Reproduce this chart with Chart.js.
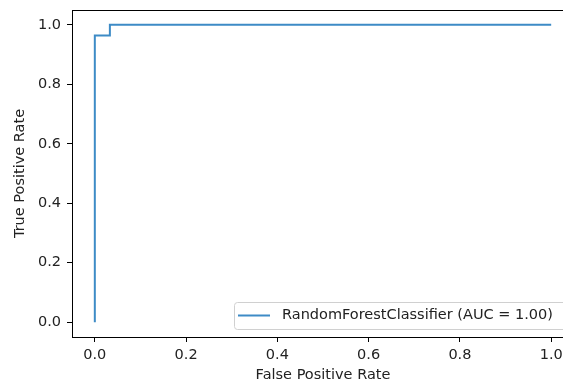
<!DOCTYPE html>
<html>
<head>
<meta charset="utf-8">
<script src="https://cdn.jsdelivr.net/npm/chart.js@4"></script>
<style>
    html, body { margin: 0; padding: 0; background: #fff; overflow: hidden; }
    #wrap { width: 590px; height: 384px; }
</style>
</head>
<body>
<div id="wrap"><canvas id="roc"></canvas></div>
<script>
// ROC curve data (false positive rate / true positive rate)
const fpr = [0.0, 0.0, 0.033, 0.033, 1.0];
const tpr = [0.0, 0.964, 0.964, 1.0, 1.0];
const xTicks = [0.0, 0.2, 0.4, 0.6, 0.8, 1.0];
const yTicks = [0.0, 0.2, 0.4, 0.6, 0.8, 1.0];
const seriesLabel = 'RandomForestClassifier (AUC = 1.00)';

const FONT = 'DejaVu Sans';
const FONT_SIZE = 14.5;
const lineColor = '#3d8bc6';

// draws the box round the plot, like matplotlib spines
const frame = {
    id: 'frame',
    afterDraw(chart) {
        const { ctx, chartArea: a } = chart;
        ctx.save();
        ctx.strokeStyle = '#000';
        ctx.lineWidth = 1;
        ctx.strokeRect(Math.round(a.left) + 0.5, Math.round(a.top) + 0.5,
            Math.round(a.right - a.left), Math.round(a.bottom - a.top));
        ctx.restore();
    }
};

// legend in the lower right corner, inside the axes
const innerLegend = {
    id: 'innerLegend',
    afterDraw(chart) {
        const { ctx, chartArea: a } = chart;
        const ds = chart.data.datasets[0];
        const left = a.left + 162, right = a.right - 7;
        const bottom = a.bottom - 8, top = bottom - 27;
        ctx.save();
        ctx.fillStyle = 'rgba(255,255,255,0.8)';
        ctx.strokeStyle = '#d0d0d0';
        ctx.lineWidth = 1;
        ctx.beginPath();
        ctx.roundRect(left + 0.5, top + 0.5, right - left, bottom - top, 3);
        ctx.fill();
        ctx.stroke();

        const midY = (top + bottom) / 2;
        ctx.strokeStyle = ds.borderColor;
        ctx.lineWidth = 2;
        ctx.beginPath();
        ctx.moveTo(left + 4, midY);
        ctx.lineTo(left + 36, midY);
        ctx.stroke();

        ctx.fillStyle = '#222';
        ctx.font = FONT_SIZE + 'px "' + FONT + '"';
        ctx.textBaseline = 'middle';
        ctx.fillText(ds.label, left + 48, midY);
        ctx.restore();
    }
};

const tickStyle = {
    display: true,
    drawOnChartArea: false,
    drawTicks: true,
    tickLength: 5,
    tickWidth: 1,
    color: '#000'
};

// no extra room for the end labels, the layout padding decides
function noPad(axis) {
    axis.paddingTop = 0;
    axis.paddingBottom = 0;
    axis.paddingLeft = 0;
    axis.paddingRight = 0;
}

const ctx = document.getElementById('roc').getContext('2d');
new Chart(ctx, {
    type: 'line',
    data: {
        datasets: [{
            label: seriesLabel,
            data: fpr.map((x, i) => ({ x: x, y: tpr[i] })),
            borderColor: lineColor,
            borderWidth: 2,
            pointRadius: 0,
            fill: false,
            tension: 0
        }]
    },
    options: {
        responsive: true,
        maintainAspectRatio: false,
        animation: false,
        layout: {
            padding: { top: 10, right: 16, left: 0, bottom: 0 }
        },
        plugins: {
            legend: { display: false },
            tooltip: { enabled: false }
        },
        scales: {
            x: {
                type: 'linear',
                min: -0.05,
                max: 1.05,
                grid: tickStyle,
                border: { display: false },
                afterBuildTicks: (axis) => { axis.ticks = xTicks.map(v => ({ value: v })); },
                afterFit: (axis) => { axis.height = 47; noPad(axis); },
                ticks: {
                    color: '#222',
                    padding: 5,
                    maxRotation: 0,
                    font: { family: FONT, size: FONT_SIZE },
                    callback: (v) => Number(v).toFixed(1)
                },
                title: {
                    display: true,
                    text: 'False Positive Rate',
                    color: '#222',
                    padding: { top: 1, bottom: 0 },
                    font: { family: FONT, size: FONT_SIZE }
                }
            },
            y: {
                type: 'linear',
                min: -0.05,
                max: 1.05,
                grid: tickStyle,
                border: { display: false },
                afterBuildTicks: (axis) => { axis.ticks = yTicks.map(v => ({ value: v })); },
                afterFit: (axis) => { axis.width = 72; noPad(axis); },
                ticks: {
                    color: '#222',
                    padding: 6,
                    font: { family: FONT, size: FONT_SIZE },
                    callback: (v) => Number(v).toFixed(1)
                },
                title: {
                    display: true,
                    text: 'True Positive Rate',
                    color: '#222',
                    padding: { top: 12, bottom: 0 },
                    font: { family: FONT, size: FONT_SIZE }
                }
            }
        }
    },
    plugins: [frame, innerLegend]
});
</script>
</body>
</html>
